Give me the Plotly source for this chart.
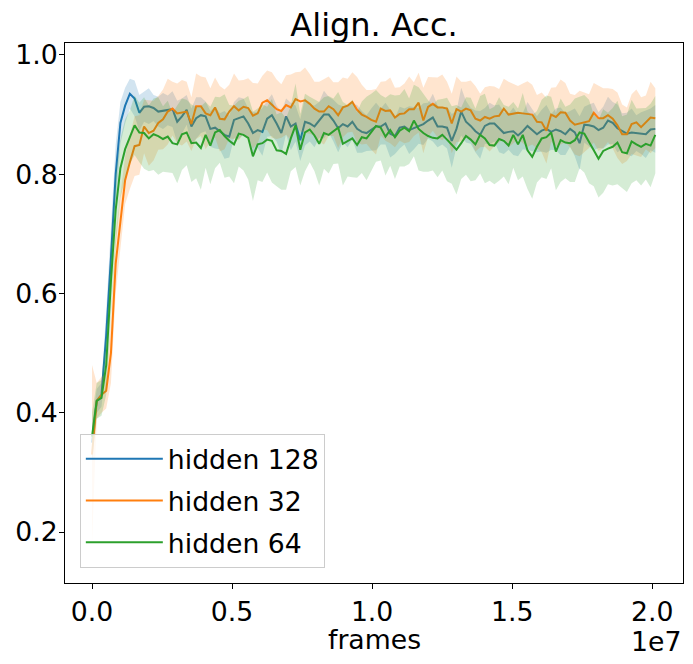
import plotly.graph_objects as go

# ---------------- data ----------------
frame_step = 169000
n_points = 120
frames = [i * frame_step for i in range(n_points)]

series_names = ["hidden 128", "hidden 32", "hidden 64"]

blue_mean = [
    0.35, 0.42, 0.43, 0.53, 0.66, 0.80, 0.886, 0.915, 0.935, 0.927,
    0.903, 0.913, 0.914, 0.911, 0.905, 0.906, 0.907, 0.909, 0.888, 0.897,
    0.908, 0.880, 0.894, 0.899, 0.897, 0.876, 0.878, 0.872, 0.866, 0.863,
    0.891, 0.894, 0.897, 0.885, 0.869, 0.874, 0.871, 0.893, 0.899, 0.885,
    0.869, 0.897, 0.880, 0.885, 0.857, 0.888, 0.885, 0.880, 0.891, 0.900,
    0.900, 0.890, 0.877, 0.884, 0.880, 0.888, 0.876, 0.871, 0.869, 0.875,
    0.880, 0.880, 0.885, 0.868, 0.864, 0.878, 0.880, 0.874, 0.877, 0.881,
    0.884, 0.890, 0.895, 0.880, 0.880, 0.878, 0.856, 0.876, 0.905, 0.888,
    0.881, 0.872, 0.866, 0.881, 0.885, 0.885, 0.877, 0.869, 0.871, 0.872,
    0.865, 0.872, 0.881, 0.874, 0.867, 0.873, 0.876, 0.871, 0.875, 0.872,
    0.867, 0.876, 0.870, 0.852, 0.883, 0.882, 0.880, 0.874, 0.878, 0.890,
    0.886, 0.877, 0.872, 0.868, 0.870, 0.869, 0.869, 0.867, 0.875, 0.876]

orange_mean = [
    0.33, 0.42, 0.43, 0.437, 0.50, 0.65, 0.72, 0.79, 0.82, 0.847,
    0.849, 0.880, 0.869, 0.873, 0.886, 0.892, 0.905, 0.910, 0.902, 0.903,
    0.905, 0.884, 0.914, 0.914, 0.902, 0.899, 0.912, 0.893, 0.892, 0.905,
    0.914, 0.907, 0.913, 0.911, 0.898, 0.902, 0.920, 0.924, 0.916, 0.909,
    0.906, 0.916, 0.912, 0.926, 0.922, 0.924, 0.918, 0.910, 0.905, 0.905,
    0.914, 0.909, 0.899, 0.912, 0.915, 0.921, 0.908, 0.900, 0.896, 0.891,
    0.888, 0.910, 0.906, 0.907, 0.895, 0.901, 0.902, 0.909, 0.909, 0.920,
    0.890, 0.913, 0.918, 0.912, 0.912, 0.910, 0.885, 0.909, 0.905, 0.910,
    0.907, 0.893, 0.890, 0.896, 0.893, 0.897, 0.898, 0.910, 0.900, 0.902,
    0.903, 0.902, 0.901, 0.900, 0.888, 0.887, 0.873, 0.900, 0.896, 0.904,
    0.903, 0.890, 0.883, 0.885, 0.887, 0.889, 0.903, 0.894, 0.894, 0.899,
    0.893, 0.882, 0.867, 0.867, 0.884, 0.887, 0.879, 0.887, 0.895, 0.894]

green_mean = [
    0.36, 0.42, 0.425, 0.48, 0.62, 0.74, 0.81, 0.842, 0.862, 0.882,
    0.870, 0.869, 0.860, 0.867, 0.864, 0.859, 0.863, 0.852, 0.850, 0.867,
    0.870, 0.852, 0.853, 0.844, 0.866, 0.848, 0.870, 0.874, 0.864, 0.856,
    0.850, 0.868, 0.866, 0.861, 0.830, 0.850, 0.852, 0.858, 0.856, 0.840,
    0.839, 0.834, 0.860, 0.882, 0.841, 0.870, 0.875, 0.865, 0.851, 0.869,
    0.866, 0.872, 0.878, 0.851, 0.856, 0.860, 0.849, 0.862, 0.860, 0.870,
    0.881, 0.878, 0.863, 0.874, 0.862, 0.873, 0.878, 0.872, 0.890, 0.876,
    0.869, 0.864, 0.861, 0.860, 0.866, 0.858, 0.849, 0.841, 0.852, 0.864,
    0.858, 0.850, 0.866, 0.860, 0.849, 0.848, 0.859, 0.856, 0.848, 0.866,
    0.850, 0.866, 0.840, 0.829, 0.846, 0.860, 0.862, 0.870, 0.838, 0.857,
    0.853, 0.852, 0.857, 0.870, 0.868, 0.855, 0.840, 0.826, 0.839, 0.843,
    0.846, 0.853, 0.837, 0.835, 0.855, 0.850, 0.846, 0.851, 0.848, 0.866]

blue_std = [
    0.03, 0.02, 0.02, 0.04, 0.05, 0.05, 0.035, 0.03, 0.025, 0.03,
    0.03, 0.025, 0.03, 0.022, 0.025, 0.03, 0.025, 0.03, 0.035, 0.03,
    0.025, 0.03, 0.035, 0.03, 0.025, 0.03, 0.035, 0.03, 0.04, 0.035,
    0.03, 0.035, 0.03, 0.025, 0.035, 0.03, 0.04, 0.03, 0.035, 0.03,
    0.035, 0.03, 0.04, 0.03, 0.035, 0.04, 0.03, 0.035, 0.03, 0.04,
    0.03, 0.035, 0.04, 0.03, 0.035, 0.03, 0.04, 0.035, 0.03, 0.035,
    0.04, 0.03, 0.035, 0.04, 0.03, 0.035, 0.03, 0.04, 0.035, 0.03,
    0.035, 0.03, 0.04, 0.035, 0.03, 0.035, 0.045, 0.03, 0.04, 0.035,
    0.03, 0.035, 0.04, 0.03, 0.035, 0.03, 0.04, 0.035, 0.03, 0.04,
    0.035, 0.03, 0.04, 0.035, 0.03, 0.035, 0.04, 0.03, 0.035, 0.04,
    0.035, 0.03, 0.04, 0.045, 0.03, 0.035, 0.04, 0.03, 0.035, 0.04,
    0.035, 0.04, 0.03, 0.035, 0.04, 0.03, 0.035, 0.04, 0.035, 0.04]

orange_std = [
    0.15, 0.03, 0.03, 0.03, 0.05, 0.05, 0.045, 0.04, 0.045, 0.05,
    0.05, 0.045, 0.055, 0.05, 0.045, 0.05, 0.055, 0.045, 0.05, 0.055,
    0.05, 0.045, 0.055, 0.05, 0.06, 0.045, 0.05, 0.055, 0.05, 0.045,
    0.055, 0.05, 0.045, 0.05, 0.055, 0.05, 0.045, 0.05, 0.055, 0.05,
    0.045, 0.05, 0.055, 0.045, 0.05, 0.055, 0.05, 0.045, 0.05, 0.055,
    0.05, 0.045, 0.055, 0.05, 0.045, 0.05, 0.055, 0.05, 0.045, 0.05,
    0.055, 0.045, 0.05, 0.055, 0.05, 0.045, 0.05, 0.055, 0.045, 0.05,
    0.055, 0.05, 0.045, 0.05, 0.055, 0.045, 0.05, 0.055, 0.05, 0.045,
    0.05, 0.055, 0.045, 0.05, 0.055, 0.05, 0.045, 0.05, 0.055, 0.05,
    0.045, 0.05, 0.055, 0.05, 0.045, 0.05, 0.055, 0.045, 0.05, 0.055,
    0.05, 0.045, 0.05, 0.055, 0.05, 0.045, 0.05, 0.055, 0.05, 0.045,
    0.05, 0.055, 0.05, 0.045, 0.05, 0.055, 0.05, 0.045, 0.06, 0.05]

green_std = [
    0.04, 0.03, 0.03, 0.05, 0.06, 0.06, 0.05, 0.05, 0.045, 0.05,
    0.05, 0.06, 0.055, 0.06, 0.065, 0.055, 0.06, 0.05, 0.065, 0.06,
    0.055, 0.065, 0.06, 0.07, 0.055, 0.065, 0.06, 0.055, 0.07, 0.06,
    0.065, 0.055, 0.06, 0.07, 0.075, 0.06, 0.065, 0.055, 0.07, 0.06,
    0.065, 0.06, 0.055, 0.07, 0.06, 0.065, 0.055, 0.06, 0.07, 0.06,
    0.065, 0.055, 0.06, 0.07, 0.06, 0.065, 0.055, 0.06, 0.07, 0.065,
    0.06, 0.055, 0.065, 0.06, 0.07, 0.06, 0.065, 0.055, 0.06, 0.07,
    0.065, 0.06, 0.055, 0.065, 0.06, 0.07, 0.065, 0.075, 0.06, 0.065,
    0.07, 0.06, 0.065, 0.075, 0.06, 0.065, 0.07, 0.06, 0.065, 0.055,
    0.06, 0.07, 0.065, 0.07, 0.06, 0.065, 0.07, 0.06, 0.065, 0.07,
    0.06, 0.065, 0.07, 0.06, 0.065, 0.07, 0.06, 0.065, 0.07, 0.06,
    0.065, 0.07, 0.06, 0.065, 0.07, 0.06, 0.065, 0.06, 0.07, 0.065]

x_tick_vals = [0, 5e6, 1e7, 1.5e7, 2e7]
x_tick_text = ["0.0", "0.5", "1.0", "1.5", "2.0"]
y_tick_vals = [0.2, 0.4, 0.6, 0.8, 1.0]
y_tick_text = ["0.2", "0.4", "0.6", "0.8", "1.0"]

# ---------------- styling ----------------
line_colors = ["#1f77b4", "#ff7f0e", "#2ca02c"]
fill_colors = ["rgba(31,119,180,0.2)", "rgba(255,127,14,0.2)", "rgba(44,160,44,0.2)"]
FONT = "DejaVu Sans"
BASE = 26.7

fig = go.Figure()
for name, mean, std, lc, fc in zip(series_names,
                                   [blue_mean, orange_mean, green_mean],
                                   [blue_std, orange_std, green_std],
                                   line_colors, fill_colors):
    upper = [m + s for m, s in zip(mean, std)]
    lower = [m - s for m, s in zip(mean, std)]
    fig.add_trace(go.Scatter(x=frames, y=mean, mode="lines", name=name,
                             legendgroup=name,
                             line=dict(color=lc, width=2)))
    fig.add_trace(go.Scatter(x=frames + frames[::-1], y=upper + lower[::-1],
                             fill="toself", fillcolor=fc, mode="lines",
                             legendgroup=name,
                             line=dict(width=0), showlegend=False, hoverinfo="skip"))

axis_common = dict(showline=True, linecolor="black", linewidth=1, mirror=True,
                   ticks="outside", ticklen=5, tickwidth=1, tickcolor="black",
                   showgrid=False, zeroline=False, automargin=False,
                   tickfont=dict(family=FONT, size=BASE, color="black"))

fig.update_layout(
    width=693, height=664,
    margin=dict(l=65, r=10, t=43, b=81),
    plot_bgcolor="white", paper_bgcolor="white",
    font=dict(family=FONT, size=BASE, color="black"),
    title=dict(text="Align. Acc.", x=0.5, xref="paper", xanchor="center",
               y=1 - 25 / 664, yref="container", yanchor="middle",
               font=dict(family=FONT, size=32, color="black")),
    xaxis=dict(range=[-0.964e6, 2.11e7], tickvals=x_tick_vals, ticktext=x_tick_text,
               **axis_common),
    yaxis=dict(range=[0.1145, 1.02], tickvals=y_tick_vals, ticktext=y_tick_text,
               ticklabelstandoff=-4, **axis_common),
    legend=dict(x=0.024, y=0.028, xanchor="left", yanchor="bottom",
                bgcolor="rgba(255,255,255,0.8)", bordercolor="#cccccc", borderwidth=1,
                font=dict(family=FONT, size=BASE, color="black"),
                itemwidth=77, tracegroupgap=4, traceorder="grouped"),
    showlegend=True,
)

fig.add_annotation(text="frames", x=0.5, y=-0.104, xref="paper", yref="paper",
                   xanchor="center", yanchor="middle", showarrow=False,
                   font=dict(family=FONT, size=BASE, color="black"))
fig.add_annotation(text="1e7", x=1, y=-0.108, xref="paper", yref="paper",
                   xanchor="right", yanchor="middle", showarrow=False,
                   font=dict(family=FONT, size=BASE, color="black"))

fig.write_html("out.html",
               config={"displayModeBar": False},
               post_script="document.body.style.margin='0';"
                           "document.documentElement.style.overflow='hidden';")
